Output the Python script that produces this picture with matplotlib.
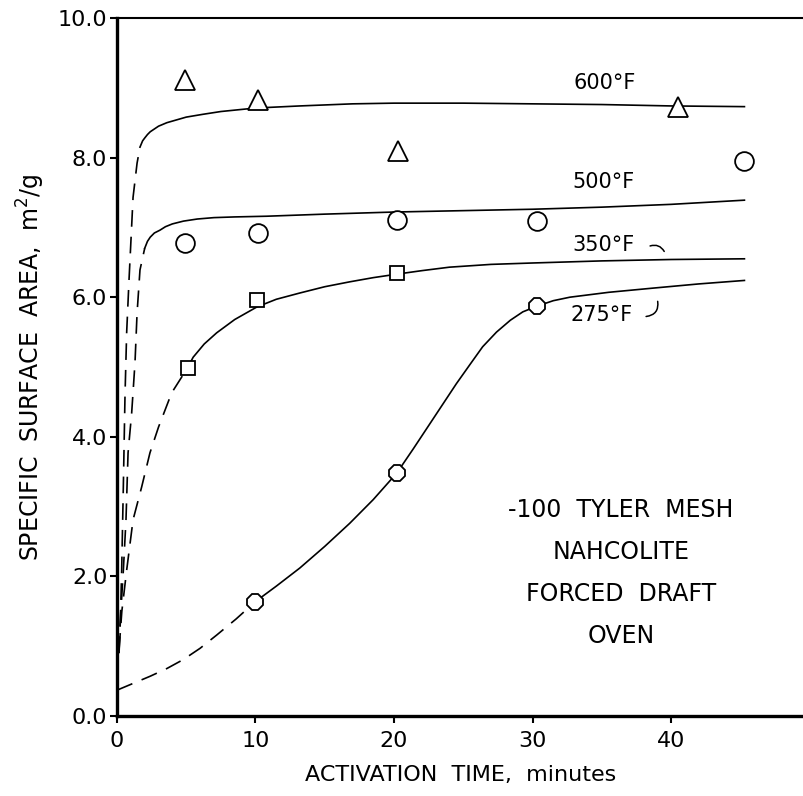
import numpy as np
import matplotlib
matplotlib.use("Agg")
import matplotlib.pyplot as plt

# --- data ---
# measured points (minutes, m2/g)
t600 = [4.9, 10.2, 20.3, 40.5]
s600 = [9.11, 8.83, 8.10, 8.72]
t500 = [4.9, 10.2, 20.2, 30.3, 45.3]
s500 = [6.78, 6.92, 7.10, 7.09, 7.95]
t350 = [5.1, 10.1, 20.2]
s350 = [4.99, 5.96, 6.34]
t275 = [10.0, 20.2, 30.3]
s275 = [1.64, 3.48, 5.87]

# hand-drawn curves (solid part, then dashed extrapolation to t=0)
c600_x = [1.66, 1.85, 2.0, 2.2, 2.4, 2.7, 3.0, 3.6, 4.3, 5.0, 6.2, 7.5, 10.0, 13.2, 17.0, 20.0, 25.0, 30.0, 35.0, 40.0, 45.3]
c600_y = [8.15, 8.24, 8.28, 8.33, 8.37, 8.41, 8.45, 8.50, 8.54, 8.58, 8.62, 8.66, 8.71, 8.74, 8.77, 8.78, 8.78, 8.77, 8.76, 8.74, 8.73]
d600_x = [0.15, 0.25, 0.34, 0.46, 0.58, 0.70, 0.87, 1.16, 1.45, 1.66]
d600_y = [0.90, 1.40, 2.10, 3.30, 4.60, 5.50, 6.25, 7.43, 7.92, 8.15]

c500_x = [2.0, 2.2, 2.4, 2.7, 3.1, 3.5, 4.0, 4.8, 5.8, 7.0, 8.5, 10.8, 15.0, 20.0, 25.0, 30.0, 35.0, 40.0, 45.3]
c500_y = [6.70, 6.80, 6.86, 6.92, 6.96, 7.01, 7.05, 7.09, 7.12, 7.14, 7.15, 7.16, 7.19, 7.22, 7.24, 7.26, 7.29, 7.33, 7.39]
d500_x = [0.12, 0.27, 0.46, 0.65, 0.80, 1.06, 1.30, 1.45, 1.66, 2.0]
d500_y = [0.90, 1.47, 2.09, 2.81, 3.77, 4.34, 5.06, 5.77, 6.39, 6.70]

c350_x = [5.1, 5.5, 6.3, 7.2, 8.5, 10.1, 11.5, 13.2, 15.0, 16.8, 18.5, 20.2, 22.0, 24.0, 27.0, 30.0, 35.0, 40.0, 45.3]
c350_y = [4.99, 5.14, 5.33, 5.49, 5.68, 5.86, 5.97, 6.06, 6.15, 6.22, 6.28, 6.33, 6.38, 6.43, 6.47, 6.49, 6.52, 6.54, 6.55]
d350_x = [0.15, 0.35, 0.70, 1.16, 1.78, 2.38, 3.00, 3.95, 5.1]
d350_y = [0.95, 1.50, 2.09, 2.81, 3.28, 3.77, 4.14, 4.63, 4.99]

c275_x = [10.0, 11.5, 13.2, 15.0, 16.8, 18.5, 20.2, 21.4, 22.6, 23.6, 24.5, 25.5, 26.4, 27.4, 28.4, 29.3,
          30.3, 31.5, 32.7, 35.5, 38.7, 42.0, 45.3]
c275_y = [1.64, 1.86, 2.12, 2.43, 2.76, 3.10, 3.48, 3.83, 4.19, 4.49, 4.76, 5.04, 5.29, 5.50, 5.67, 5.79,
          5.87, 5.95, 6.00, 6.07, 6.13, 6.19, 6.24]
d275_x = [0.0, 1.2, 2.4, 3.6, 4.8, 6.0, 7.2, 8.6, 10.0]
d275_y = [0.37, 0.47, 0.57, 0.68, 0.81, 0.97, 1.16, 1.39, 1.64]

curve_labels = ["600°F", "500°F", "350°F", "275°F"]
label_pos = [(35.2, 9.07), (35.1, 7.65), (35.1, 6.75), (35.0, 5.74)]
note_lines = ["-100  TYLER  MESH", "NAHCOLITE", "FORCED  DRAFT", "OVEN"]

plt.rcParams['font.family'] = 'DejaVu Sans'
fig = plt.figure(figsize=(8.04, 7.96), dpi=100)
ax = fig.add_axes([0.1455, 0.1005, 0.8545, 0.8769])

lw = 1.2
dash = (10, 6)
for cx, cy, dx, dy in [(c600_x, c600_y, d600_x, d600_y),
                       (c500_x, c500_y, d500_x, d500_y),
                       (c350_x, c350_y, d350_x, d350_y),
                       (c275_x, c275_y, d275_x, d275_y)]:
    ax.plot(cx, cy, color='black', lw=lw, zorder=2)
    ax.plot(dx, dy, color='black', lw=lw, dashes=dash, zorder=2)

mk = dict(linestyle='none', markerfacecolor='white', markeredgecolor='black',
          markeredgewidth=1.3, zorder=3)
ax.plot(t600, s600, marker='^', markersize=15, **mk)
ax.plot(t500, s500, marker='o', markersize=13.5, **mk)
ax.plot(t350, s350, marker='s', markersize=10.5, **mk)
ax.plot(t275, s275, marker='8', markersize=12, **mk)

for lab, (lx, ly) in zip(curve_labels, label_pos):
    ax.text(lx, ly, lab, ha='center', va='center', fontsize=15)

# small hook leaders next to 350 and 275 labels
ax.annotate("", xy=(39.6, 6.62), xytext=(38.3, 6.72),
            arrowprops=dict(arrowstyle='-', lw=1.1, connectionstyle='arc3,rad=-0.5'))
ax.annotate("", xy=(39.0, 5.98), xytext=(38.0, 5.72),
            arrowprops=dict(arrowstyle='-', lw=1.1, connectionstyle='arc3,rad=0.6'))

for i, line in enumerate(note_lines):
    ax.text(36.4, 2.95 - i * 0.6, line, ha='center', va='center', fontsize=17)

ax.set_xlim(0, 49.6)
ax.set_ylim(0, 10)
ax.set_xticks([0, 10, 20, 30, 40])
ax.set_xticklabels(["0", "10", "20", "30", "40"])
ax.set_yticks([0, 2, 4, 6, 8, 10])
ax.set_yticklabels(["0.0", "2.0", "4.0", "6.0", "8.0", "10.0"])
ax.tick_params(axis='x', direction='out', length=5, width=1.5, labelsize=16, pad=6)
ax.tick_params(axis='y', direction='out', length=5, width=1.5, labelsize=16, pad=2)

for side in ['left', 'bottom']:
    ax.spines[side].set_linewidth(2.4)
ax.spines['top'].set_linewidth(1.5)
ax.spines['right'].set_visible(False)

ax.set_xlabel("ACTIVATION  TIME,  minutes", fontsize=16, labelpad=10)
ax.set_ylabel("SPECIFIC  SURFACE  AREA,  m$^2$/g", fontsize=17, labelpad=8)

fig.savefig("out.png", dpi=100)
